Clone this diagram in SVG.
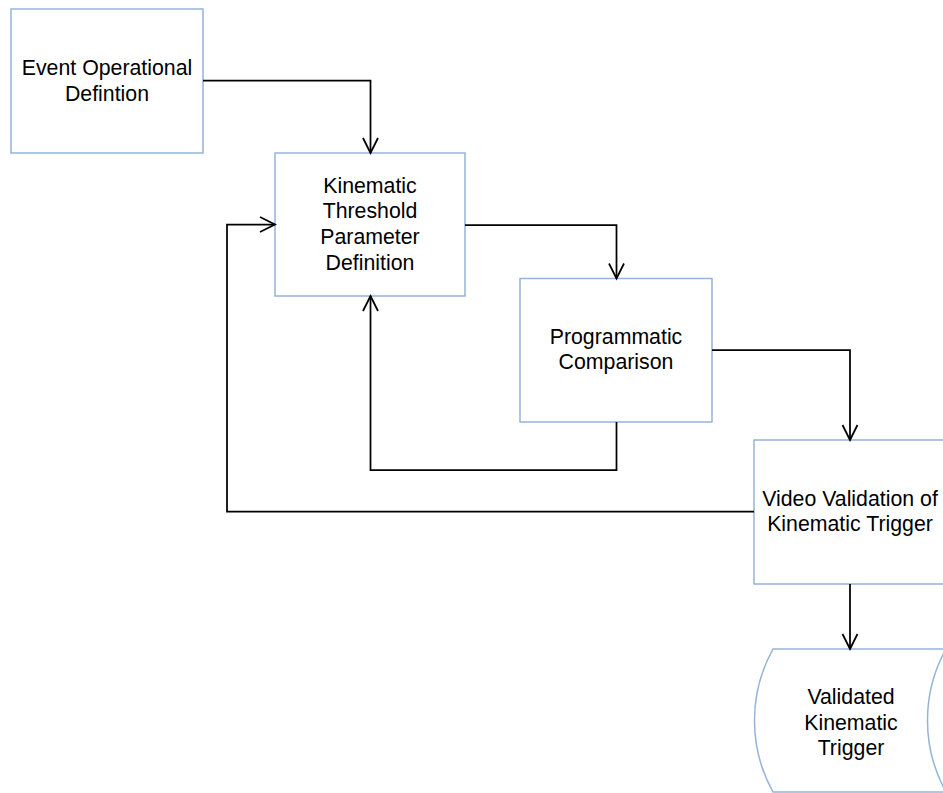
<svg xmlns="http://www.w3.org/2000/svg" width="943" height="793" viewBox="0 0 943 793">
  <defs>
    <marker id="open-arrow" markerUnits="userSpaceOnUse" markerWidth="20" markerHeight="20" viewBox="-17 -10 20 20" refX="0" refY="0" orient="auto">
      <path d="M -15,-7.5 L 0,0 L -15,7.5" fill="none" stroke="#000" stroke-width="1.75"/>
    </marker>
    <style>
      .box { fill: #fff; stroke: #95B3D7; stroke-width: 1.5; }
      .link { fill: none; stroke: #000; stroke-width: 1.75; marker-end: url(#open-arrow); }
      .label { font-family: "Liberation Sans", Arial, sans-serif; font-size: 21.3px; fill: #000; text-anchor: middle; }
    </style>
  </defs>

  <rect width="943" height="793" fill="#fff"/>

  <!-- process steps -->
  <g id="event-definition">
    <rect class="box" x="11" y="9" width="192" height="144"/>
    <text class="label" x="107" y="75">Event Operational</text>
    <text class="label" x="107" y="100.6">Defintion</text>
  </g>

  <g id="threshold-definition">
    <rect class="box" x="275" y="153" width="190" height="143"/>
    <text class="label" x="370" y="192.7">Kinematic</text>
    <text class="label" x="370" y="218.3">Threshold</text>
    <text class="label" x="370" y="243.9">Parameter</text>
    <text class="label" x="370" y="269.5">Definition</text>
  </g>

  <g id="programmatic-comparison">
    <rect class="box" x="520" y="278.5" width="192" height="143.5"/>
    <text class="label" x="616" y="343.5">Programmatic</text>
    <text class="label" x="616" y="369.1">Comparison</text>
  </g>

  <g id="video-validation">
    <rect class="box" x="754" y="440" width="192" height="144"/>
    <text class="label" x="850" y="505.8">Video Validation of</text>
    <text class="label" x="850" y="531.4">Kinematic Trigger</text>
  </g>

  <g id="validated-trigger">
    <path class="box" d="M 773,649 L 946,649 A 147.4 147.4 0 0 0 946,792 L 773,792 A 147.4 147.4 0 0 1 773,649 Z"/>
    <text class="label" x="851" y="704">Validated</text>
    <text class="label" x="851" y="729.6">Kinematic</text>
    <text class="label" x="851" y="755.2">Trigger</text>
  </g>

  <!-- connectors -->
  <g id="connectors">
    <path class="link" d="M 203,80.5 H 370.5 V 153"/>
    <path class="link" d="M 465,225 H 616.5 V 278.5"/>
    <path class="link" d="M 712,350 H 850 V 440"/>
    <path class="link" d="M 616.5,422 V 470 H 370.5 V 296"/>
    <path class="link" d="M 754,511.5 H 227 V 224.5 H 275"/>
    <path class="link" d="M 850,584 V 649"/>
  </g>
</svg>
